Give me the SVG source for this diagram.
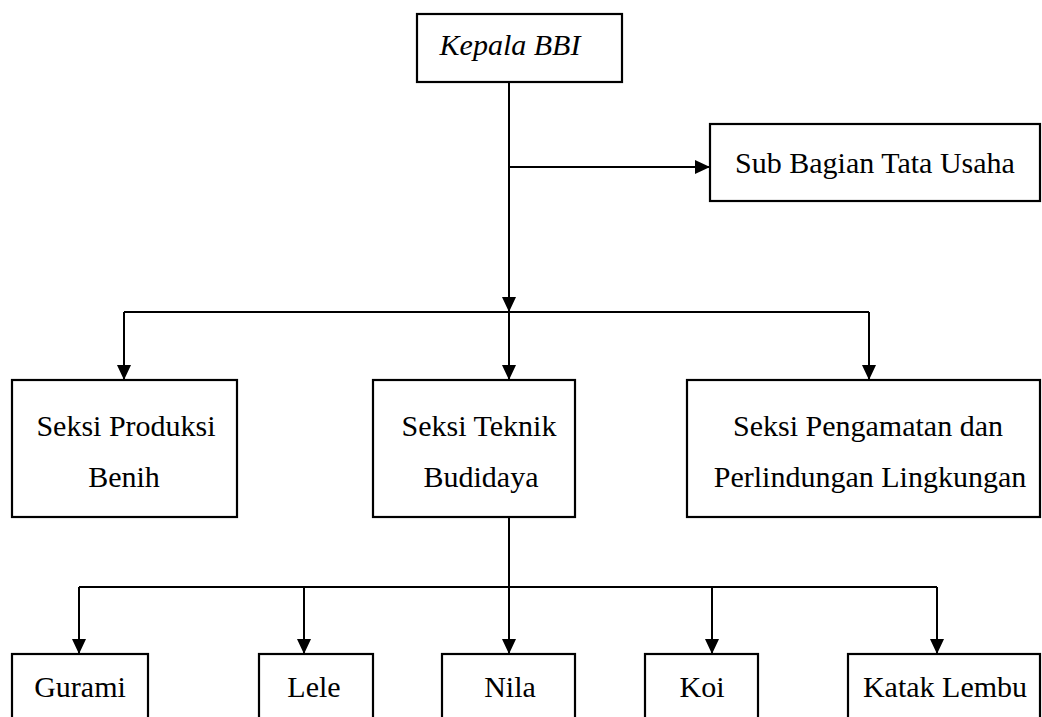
<svg xmlns="http://www.w3.org/2000/svg" width="1042" height="717" viewBox="0 0 1042 717">
<style>
.box{fill:#fff;stroke:#000;stroke-width:2.2}
.t{font-family:"Liberation Serif","Times New Roman",serif;font-size:30px;fill:#000;text-anchor:middle}
.it{font-style:italic}
.c{fill:none;stroke:#000;stroke-width:2}
</style>
<defs>
<marker id="ah" markerUnits="userSpaceOnUse" markerWidth="16" markerHeight="16" refX="15" refY="7" orient="auto">
<path d="M0,0 L15,7 L0,14 z" fill="#000"/>
</marker>
</defs>
<rect width="1042" height="717" fill="#fff"/>
<g id="connectors">
<path class="c" d="M509,82 V312" marker-end="url(#ah)"/>
<path class="c" d="M509,167 H710" marker-end="url(#ah)"/>
<path class="c" d="M124,312 H869"/>
<path class="c" d="M124,312 V380" marker-end="url(#ah)"/>
<path class="c" d="M509,312 V380" marker-end="url(#ah)"/>
<path class="c" d="M869,312 V380" marker-end="url(#ah)"/>
<path class="c" d="M509,517 V587"/>
<path class="c" d="M79,587 H937"/>
<path class="c" d="M79,587 V654" marker-end="url(#ah)"/>
<path class="c" d="M304,587 V654" marker-end="url(#ah)"/>
<path class="c" d="M509,587 V654" marker-end="url(#ah)"/>
<path class="c" d="M712,587 V654" marker-end="url(#ah)"/>
<path class="c" d="M937,587 V654" marker-end="url(#ah)"/>
</g>
<g id="kepala">
<rect class="box" x="417" y="14" width="205" height="68"/>
<text class="t it" x="510" y="55">Kepala BBI</text>
</g>
<g id="subbagian">
<rect class="box" x="710" y="124" width="330" height="77"/>
<text class="t" x="875" y="173">Sub Bagian Tata Usaha</text>
</g>
<g id="produksi">
<rect class="box" x="12" y="380" width="225" height="137"/>
<text class="t" x="126" y="436">Seksi Produksi</text>
<text class="t" x="124" y="487">Benih</text>
</g>
<g id="teknik">
<rect class="box" x="373" y="380" width="202" height="137"/>
<text class="t" x="479" y="436">Seksi Teknik</text>
<text class="t" x="481" y="487">Budidaya</text>
</g>
<g id="pengamatan">
<rect class="box" x="687" y="380" width="353" height="137"/>
<text class="t" x="868" y="436">Seksi Pengamatan dan</text>
<text class="t" x="870" y="487">Perlindungan Lingkungan</text>
</g>
<g id="gurami">
<rect class="box" x="12" y="654" width="136" height="100"/>
<text class="t" x="80" y="697">Gurami</text>
</g>
<g id="lele">
<rect class="box" x="259" y="654" width="114" height="100"/>
<text class="t" x="314" y="697">Lele</text>
</g>
<g id="nila">
<rect class="box" x="442" y="654" width="133" height="100"/>
<text class="t" x="510" y="697">Nila</text>
</g>
<g id="koi">
<rect class="box" x="645" y="654" width="113" height="100"/>
<text class="t" x="702" y="697">Koi</text>
</g>
<g id="katak">
<rect class="box" x="848" y="654" width="192" height="100"/>
<text class="t" x="945" y="697">Katak Lembu</text>
</g>
</svg>
